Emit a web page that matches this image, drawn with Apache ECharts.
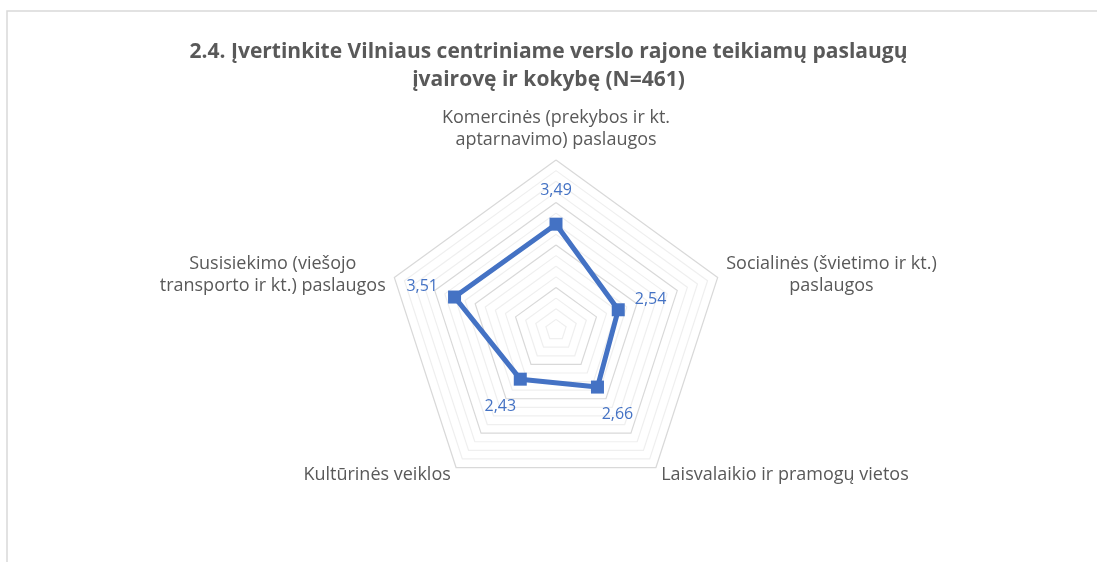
<!DOCTYPE html>
<html>
<head>
<meta charset="utf-8">
<script src="https://cdn.jsdelivr.net/npm/echarts@6/dist/echarts.min.js"></script>
<style>
  html, body { margin: 0; padding: 0; background: #fff; }
  #main { width: 1097px; height: 562px; }
</style>
</head>
<body>
<div id="main"></div>
<script>
// indicators in ECharts order (counter-clockwise from top), average ratings on a 1..5 scale
var categories = [
  'Komercinės (prekybos ir kt.\naptarnavimo) paslaugos',
  'Susisiekimo (viešojo\ntransporto ir kt.) paslaugos',
  'Kultūrinės veiklos',
  'Laisvalaikio ir pramogų vietos',
  'Socialinės (švietimo ir kt.)\npaslaugos'
];
var values = [3.49, 3.51, 2.43, 2.66, 2.54];
var scaleMin = 1;
var scaleMax = 5;

var FONT = 'Open Sans';
var CX = 556, CY = 330;

var chart = echarts.init(document.getElementById('main'));

var option = {
  backgroundColor: '#fff',
  textStyle: { fontFamily: FONT },
  graphic: [{
    type: 'rect',
    shape: { x: 7, y: 11, width: 1200, height: 700 },
    style: { fill: 'none', stroke: '#d9d9d9', lineWidth: 1.5 },
    silent: true
  }],
  title: {
    text: '2.4. Įvertinkite Vilniaus centriniame verslo rajone teikiamų paslaugų\nįvairovę ir kokybę (N=461)',
    left: 'center',
    top: 33,
    textStyle: {
      fontFamily: FONT,
      fontSize: 21,
      fontWeight: 'bold',
      color: '#595959',
      lineHeight: 28,
      align: 'center'
    }
  },
  radar: {
    center: [CX, CY],
    radius: 170,
    startAngle: 90,
    shape: 'polygon',
    splitNumber: 16,
    indicator: categories.map(function (c) {
      return { name: c, min: scaleMin, max: scaleMax };
    }),
    nameGap: 9,
    axisName: {
      color: '#595959',
      fontFamily: FONT,
      fontSize: 18,
      lineHeight: 22,
      formatter: function (name) {
        return name.split('\n').map(function (l) { return '{c|' + l + '}'; }).join('\n');
      },
      rich: {
        c: { align: 'center', color: '#595959', fontFamily: FONT, fontSize: 18, lineHeight: 22 }
      }
    },
    axisLine: { show: false },
    axisTick: { show: false },
    axisLabel: { show: false },
    splitArea: { show: false },
    splitLine: {
      lineStyle: {
        color: ['#d9d9d9', '#efefef', '#efefef', '#efefef'],
        width: 1.2
      }
    }
  },
  series: [{
    type: 'radar',
    symbol: 'rect',
    symbolSize: 13,
    lineStyle: { color: '#4472C4', width: 5 },
    itemStyle: { color: '#4472C4' },
    label: {
      show: true,
      position: 'inside',
      color: '#4472C4',
      fontFamily: FONT,
      fontSize: 16,
      formatter: function (p) { return String(p.value.toFixed(2)).replace('.', ','); }
    },
    labelLayout: function (p) {
      var r = p.rect;
      var x = r.x + r.width / 2 - CX;
      var y = r.y + r.height / 2 - CY;
      var len = Math.sqrt(x * x + y * y) || 1;
      return { dx: x / len * 34, dy: y / len * 34 };
    },
    data: [{ value: values, name: 'Vidurkis' }]
  }]
};

chart.setOption(option);
</script>
</body>
</html>
